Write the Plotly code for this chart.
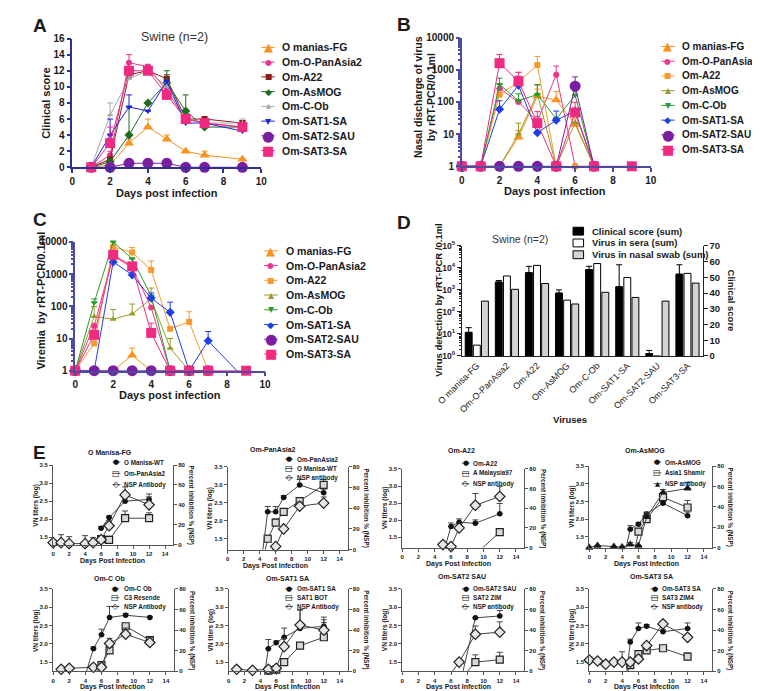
import plotly.graph_objects as go

FONT = "Liberation Sans"
W, H = 760, 691

# ======================= DATA =======================
SERIES = ["O manias-FG", "Om-O-PanAsia2", "Om-A22", "Om-AsMOG",
          "Om-C-Ob", "Om-SAT1-SA", "Om-SAT2-SAU", "Om-SAT3-SA"]

# ---- Panel A: clinical score ----
A_DAYS = [1, 2, 3, 4, 5, 6, 7, 9]
A_O_MANIAS_FG = [0, 0.3, 3, 5, 3.5, 2, 1.5, 1]
A_PANASIA2 = [0, 1.5, 13, 12.5, 9.5, 6, 5.5, 5]
A_A22 = [0, 1, 11.5, 12, 11, 6, 6, 5.5]
A_ASMOG = [0, 0.7, 4, 8, 10.5, 7, 5, 5]
A_C_OB = [0, 6.5, 11, 12, 10, 6, 5.5, 5.5]
A_SAT1 = [0, 4, 7.5, 7, 10.7, 5.5, 5.5, 4.5]
A_SAT2 = [0, 0, 0.5, 0.5, 0.5, 0, 0, 0]
A_SAT3 = [0, 3, 12, 12, 9, 6, 5.5, 5]
A_O_MANIAS_FG_ERR = [0, 0, 0.5, 1, 0.5, 0, 0.5, 0]
A_PANASIA2_ERR = [0, 0.5, 1, 0.3, 0.3, 0, 0, 0]
A_A22_ERR = [0, 0, 0.5, 0.5, 0.5, 0, 0, 0.3]
A_ASMOG_ERR = [0, 0, 3.5, 0, 1.5, 2, 0, 0]
A_C_OB_ERR = [0, 1.5, 0.3, 0.5, 0.5, 0, 0, 0.5]
A_SAT1_ERR = [0, 2, 1.5, 0, 0, 0, 0, 0]
A_SAT2_ERR = [0, 0, 0.5, 0.5, 0.5, 0, 0, 0]
A_SAT3_ERR = [0, 2, 0.5, 0.5, 0.5, 0.5, 0.5, 0.5]

# ---- Panel B: nasal discharge ----
B_DAYS = [0, 1, 2, 3, 4, 5, 6, 7]
B_DAYS_LONG = [0, 1, 2, 3, 4, 5, 6, 7, 9]
B_O_MANIAS_FG = [1, 1, 1, 8, 150, 115, 20, 1]
B_PANASIA2 = [1, 1, 260, 100, 25, 700, 1, 1]
B_A22 = [1, 1, 170, 420, 1400, 1, 1, 1]
B_ASMOG = [1, 1, 1, 10, 180, 1, 23, 1]
B_C_OB = [1, 1, 350, 110, 170, 30, 160, 1]
B_SAT1 = [1, 1, 59, 330, 11, 27, 52, 1]
B_SAT2 = [1, 1, 1, 1, 1, 1, 310, 1]
B_SAT3 = [1, 1, 1600, 440, 22, 1, 47, 1, 1]
B_O_MANIAS_FG_ERR = [0, 0, 0, 5, 100, 100, 10, 0]
B_PANASIA2_ERR = [0, 0, 0, 0, 10, 600, 0, 0]
B_A22_ERR = [0, 0, 0, 400, 1200, 0, 0, 0]
B_ASMOG_ERR = [0, 0, 0, 12, 150, 0, 0, 0]
B_C_OB_ERR = [0, 0, 200, 70, 180, 0, 60, 0]
B_SAT1_ERR = [0, 0, 50, 300, 0, 25, 0, 0]
B_SAT2_ERR = [0, 0, 0, 0, 0, 0, 290, 0]
B_SAT3_ERR = [0, 0, 1400, 400, 28, 0, 50, 0, 0]

# ---- Panel C: viremia ----
C_DAYS = [0, 1, 2, 3, 4, 5, 6, 7]
C_DAYS_LONG = [0, 1, 2, 3, 4, 5, 6, 7, 9]
C_O_MANIAS_FG = [1, 1, 1, 3, 1, 1, 1, 1]
C_PANASIA2 = [1, 25, 3700, 1600, 92, 1, 1, 1]
C_A22 = [1, 7, 7000, 4700, 1350, 20, 33, 1]
C_ASMOG = [1, 48, 40, 58, 170, 5, 1, 1]
C_C_OB = [1, 130, 10000, 3000, 210, 1, 1, 1]
C_SAT1 = [1, 1, 2400, 950, 180, 65, 1, 8.5, 0.5]
C_SAT2 = [1, 1, 1, 1, 1, 1, 1, 1]
C_SAT3 = [1, 13, 4000, 1750, 15, 1, 1, 1, 1]
C_O_MANIAS_FG_ERR = [0, 0, 0, 2, 0, 0, 0, 0]
C_PANASIA2_ERR = [0, 0, 0, 0, 0, 0, 0, 0]
C_A22_ERR = [0, 0, 0, 2000, 1200, 0, 35, 0]
C_ASMOG_ERR = [0, 50, 40, 60, 200, 5, 0, 0]
C_C_OB_ERR = [0, 40, 0, 0, 0, 0, 0, 0]
C_SAT1_ERR = [0, 0, 0, 0, 80, 70, 0, 8, 0]
C_SAT2_ERR = [0, 0, 0, 0, 0, 0, 0, 0]
C_SAT3_ERR = [0, 10, 0, 0, 15, 0, 0, 0, 0]

# ---- Panel D: sums ----
D_VIRUSES = ["O manisa-FG", "Om-O-PanAsia2", "Om-A22", "Om-AsMOG",
             "Om-C-Ob", "Om-SAT1-SA", "Om-SAT2-SAU", "Om-SAT3-SA"]
D_CLINICAL = [15, 47, 53, 40, 55, 44, 1.5, 52]
D_CLINICAL_ERR = [3, 1, 4, 2, 2, 14, 2, 6]
D_SERA = [3.1, 4300, 13000, 345, 15800, 3650, 1, 5650]
D_NASAL = [310, 1070, 1960, 230, 780, 455, 310, 2040]
D_LEGEND = ["Clinical score (sum)", "Virus in sera (sum)", "Virus in nasal swab (sum)"]

# ---- Panel E: VN titres (S1 filled circle, S2 square, S3 NSP antibody %) ----
E_TITLES = ["O Manisa-FG", "Om-PanAsia2", "Om-A22", "Om-AsMOG",
            "Om-C Ob", "Om-SAT1 SA", "Om-SAT2 SAU", "Om-SAT3 SA"]

E1_NAMES = ["O Manisa-WT", "Om-PanAsia2", "NSP Antibody"]
E1_S1_DAYS = [6, 7, 9, 12]
E1_S1 = [1.75, 2.05, 2.5, 2.55]
E1_S1_ERR = [0.05, 0.04, 0.1, 0.15]
E1_S2_DAYS = [6, 7, 9, 12]
E1_S2 = [1.45, 1.43, 2.03, 2.03]
E1_S2_ERR = [0.05, 0.1, 0.2, 0.15]
E1_S3_DAYS = [0, 1, 2, 4, 5, 6, 7, 9, 12]
E1_S3 = [2, 2, 1, 1, 2, 5, 19, 50, 40]
E1_S3_ERR = [3, 8, 7, 8, 5, 3, 5, 8, 8]

E2_NAMES = ["Om-PanAsia2", "O Manisa-WT", "NSP antibody"]
E2_S1_DAYS = [4, 5, 6, 7, 9, 12]
E2_S1 = [0.5, 2.25, 2.25, 2.65, 3.0, 2.78]
E2_S1_ERR = [0, 0.15, 0.15, 0.05, 0.15, 0.1]
E2_S2_DAYS = [4, 5, 6, 7, 9, 12]
E2_S2 = [0.5, 1.5, 1.95, 2.25, 2.55, 3.0]
E2_S2_ERR = [0, 0.1, 0.1, 0.08, 0.08, 0.15]
E2_S3_DAYS = [5, 6, 7, 9, 12]
E2_S3 = [-5, 3, 20, 42, 45]
E2_S3_ERR = [0, 2, 2, 4, 6]

E3_NAMES = ["Om-A22", "A Malaysia97", "NSP antibody"]
E3_S1_DAYS = [5, 6, 7, 9, 12]
E3_S1 = [1.0, 1.82, 1.94, 1.91, 2.19]
E3_S1_ERR = [0, 0.1, 0.1, 0.1, 0.3]
E3_S2_DAYS = [9, 12]
E3_S2 = [1.0, 1.65]
E3_S2_ERR = [0, 0]
E3_S3_DAYS = [5, 6, 7, 9, 12]
E3_S3 = [3, 1, 20, 43, 52]
E3_S3_ERR = [1, 1, 2, 12, 10]

E4_NAMES = ["Om-AsMOG", "Asia1 Shamir", "NSP antibody"]
E4_S1_DAYS = [4, 5, 6, 7, 9, 12]
E4_S1 = [0.7, 1.72, 1.86, 2.15, 2.45, 2.1]
E4_S1_ERR = [0, 0.1, 0.05, 0.05, 0.05, 0.1]
E4_S2_DAYS = [5, 6, 7, 9, 12]
E4_S2 = [0.5, 1.65, 2.0, 2.62, 2.33]
E4_S2_ERR = [0, 0.05, 0.05, 0.05, 0.2]
E4_S3_DAYS = [0, 1, 3, 4, 5, 6, 7, 9, 12]
E4_S3 = [0, 2, 1, 0.5, 3, 2, 30, 54, 58]
E4_S3_ERR = [0, 0, 0, 0, 2, 0, 4, 3, 6]

E5_NAMES = ["Om-C Ob", "C3 Resende", "NSP Antibody"]
E5_S1_DAYS = [4, 5, 6, 7, 9, 12]
E5_S1 = [1.15, 1.87, 2.25, 2.72, 2.78, 2.72]
E5_S1_ERR = [0, 0.05, 0.15, 0.3, 0.05, 0.03]
E5_S2_DAYS = [5, 6, 7, 9, 12]
E5_S2 = [1.08, 1.42, 1.82, 2.48, 2.1]
E5_S2_ERR = [0, 0.03, 0.05, 0.05, 0.1]
E5_S3_DAYS = [1, 2, 5, 6, 7, 9, 12]
E5_S3 = [2, 3, 4, 4, 27, 36, 28]
E5_S3_ERR = [0, 0, 2, 2, 5, 6, 5]

E6_NAMES = ["Om-SAT1 SA", "SAT1 BOT", "NSP Antibody"]
E6_S1_DAYS = [4, 5, 6, 7, 9, 12]
E6_S1 = [0.4, 1.87, 2.03, 2.18, 2.42, 2.48]
E6_S1_ERR = [0, 0.25, 0.05, 0.25, 0.5, 0.25]
E6_S2_DAYS = [5, 6, 7, 9, 12]
E6_S2 = [1.27, 1.3, 1.5, 1.95, 2.18]
E6_S2_ERR = [0, 0, 0, 0, 0.4]
E6_S3_DAYS = [1, 3, 5, 6, 7, 9, 12]
E6_S3 = [2, 1, 2, 3, 24, 45, 40]
E6_S3_ERR = [3, 0, 0, 0, 8, 15, 10]

E7_NAMES = ["Om-SAT2 SAU", "SAT2 ZIM", "NSP antibody"]
E7_S1_DAYS = [7, 9, 12]
E7_S1 = [0.8, 2.71, 2.76]
E7_S1_ERR = [0, 0, 0.15]
E7_S2_DAYS = [7, 9, 12]
E7_S2 = [1.0, 1.5, 1.57]
E7_S2_ERR = [0, 0.2, 0.2]
E7_S3_DAYS = [6, 7, 9, 12]
E7_S3 = [-2, 9, 36, 38]
E7_S3_ERR = [0, 2, 8, 10]

E8_NAMES = ["Om-SAT3 SA", "SAT3 ZIM4", "NSP antibody"]
E8_S1_DAYS = [4, 5, 6, 7, 9, 12]
E8_S1 = [0.1, 2.05, 2.42, 2.48, 2.33, 2.42]
E8_S1_ERR = [0, 0.08, 0.15, 0.05, 0.05, 0.15]
E8_S2_DAYS = [4, 5, 6, 7, 9, 12]
E8_S2 = [0.85, 1.42, 1.72, 1.82, 1.88, 1.65]
E8_S2_ERR = [0, 0.03, 0.05, 0.08, 0.03, 0.1]
E8_S3_DAYS = [0, 1, 2, 3, 4, 5, 6, 7, 9, 12]
E8_S3 = [11, 10, 7, 9, 9, 9, 12, 25, 46, 33]
E8_S3_ERR = [3, 2, 0, 0, 10, 0, 0, 3, 2, 3]

# ======================= STYLE / LAYOUT =======================
A_COLORS = ["#F7931E", "#E6338C", "#8B1A1A", "#1F6B1F", "#A8A8A8", "#2020E0", "#7A1FA0", "#F02A80"]
A_SYMBOLS = ["triangle-up", "circle", "square", "diamond", "triangle-up", "triangle-down", "circle", "square"]
A_SIZES = [9, 6, 6, 7, 5, 6, 11, 10]
BC_COLORS = ["#F7931E", "#E8388A", "#F79A2E", "#9A9A2A", "#2E9A2E", "#1F3FE0", "#7A1FA0", "#F02A80"]
BC_SYMBOLS = ["triangle-up", "circle", "square", "triangle-up", "triangle-down", "diamond", "circle", "square"]
BC_SIZES = [9, 6, 6, 6, 6, 7, 11, 10]

GLYPH = {"triangle-up": "▲", "circle": "●", "square": "■", "diamond": "◆",
         "triangle-down": "▼", "square-open": "□", "diamond-open": "◇"}

fig = go.Figure()
ANN, SHP, LAY = [], [], {}


def PX(x):
    return x / W


def PY(y):
    return 1 - y / H


def text(x, y, s, size, bold=True, color="#1a1a1a", xanchor="center", yanchor="middle", angle=0,
         family=FONT):
    ANN.append(dict(x=PX(x), y=PY(y), xref="paper", yref="paper",
                    text=(f"<b>{s}</b>" if bold else s), showarrow=False,
                    font=dict(family=family, size=size, color=color), borderpad=0,
                    xanchor=xanchor, yanchor=yanchor, textangle=angle))


def axis(rng, color, lw, size, tickvals=None, ticktext=None, anchor=None, ticklen=4, domain=None,
         bold=True, **kw):
    d = dict(range=rng, anchor=anchor, showline=True, linecolor=color, linewidth=lw,
             ticks="outside", ticklen=ticklen, tickwidth=lw, tickcolor=color,
             showgrid=False, zeroline=False, fixedrange=True,
             tickfont=dict(family=FONT, size=size, color="#1a1a1a", weight="bold" if bold else "normal"))
    if domain is not None:
        d["domain"] = domain
    if tickvals is not None:
        d["tickvals"] = tickvals
    if ticktext is not None:
        d["ticktext"] = ticktext
    d.update(kw)
    return d


def series(xs, ys, errs, xa, ya, color, symbol, size, low, fill=None, mline=None, lcolor=None, lw=1.0):
    lc = lcolor or color
    fig.add_trace(go.Scatter(x=xs, y=ys, mode="lines", xaxis=xa, yaxis=ya,
                             line=dict(color=lc, width=lw), hoverinfo="skip", showlegend=False))
    keep = [i for i, v in enumerate(ys) if v >= low]
    mx = [xs[i] for i in keep]
    my = [ys[i] for i in keep]
    kw = {}
    if errs is not None:
        me = [errs[i] for i in keep]
        kw["error_y"] = dict(type="data", array=me, arrayminus=[0] * len(me), symmetric=False,
                             color=lc, thickness=1, width=3)
    marker = dict(symbol=symbol, size=size, color=fill or color,
                  line=dict(color=mline or color, width=1.2 if mline else 0))
    fig.add_trace(go.Scatter(x=mx, y=my, mode="markers", xaxis=xa, yaxis=ya, marker=marker,
                             cliponaxis=False, hoverinfo="skip", showlegend=False, **kw))


def legend_entry(xm, y, half, label, color, symbol, gsize, tx, tsize, lcolor=None, gcolor=None):
    SHP.append(dict(type="line", xref="paper", yref="paper", x0=PX(xm - half), x1=PX(xm + half),
                    y0=PY(y), y1=PY(y), line=dict(color=lcolor or color, width=1)))
    text(xm, y, GLYPH[symbol], gsize, bold=False, color=gcolor or color, family="DejaVu Sans")
    text(tx, y, label, tsize, xanchor="left")


def dom(box):
    l, r, t, b = box
    return [PX(l), PX(r)], [PY(b), PY(t)]


# ---------- Panel A ----------
BOX_A = (41, 238, 25, 156)
xd, yd = dom(BOX_A)
NAVY = "#2E3192"
LAY["xaxis"] = axis([0, 10], NAVY, 1.5, 10, list(range(0, 11, 2)), anchor="y", domain=xd)
LAY["yaxis"] = axis([0, 16], NAVY, 1.5, 10, list(range(0, 17, 2)), anchor="x", domain=yd)
A_VALUES = [A_O_MANIAS_FG, A_PANASIA2, A_A22, A_ASMOG, A_C_OB, A_SAT1, A_SAT2, A_SAT3]
A_ERRS = [A_O_MANIAS_FG_ERR, A_PANASIA2_ERR, A_A22_ERR, A_ASMOG_ERR, A_C_OB_ERR, A_SAT1_ERR, A_SAT2_ERR, A_SAT3_ERR]
for i in range(8):
    series(A_DAYS, A_VALUES[i], A_ERRS[i], "x", "y", A_COLORS[i], A_SYMBOLS[i], A_SIZES[i], 0)
text(147, 23, "Swine (n=2)", 12.5, bold=False, color="#333")
text(14, 90, "Clinical score", 11, angle=-90)
text(140, 182, "Days post infection", 11)
for i, name in enumerate(SERIES):
    legend_entry(245, 34 + 15 * i, 7, name, A_COLORS[i], A_SYMBOLS[i], A_SIZES[i] * 1.3, 259, 10.5)

# ---------- Panel B ----------
BOX_B = (447, 644, 24, 155)
xd, yd = dom(BOX_B)
PURP = "#4B4BA0"
LOGV = [1, 10, 100, 1000, 10000]
LOGT = ["1", "10", "100", "1000", "10000"]
LAY["xaxis2"] = axis([0, 10], PURP, 1.5, 10, list(range(0, 11, 2)), anchor="y2", domain=xd)
LAY["yaxis2"] = axis([0, 4], PURP, 1.5, 10, LOGV, LOGT, anchor="x2", domain=yd, type="log",
                     minor=dict(ticks="outside", ticklen=2, tickcolor=PURP, dtick="D1"))
B_VALUES = [B_O_MANIAS_FG, B_PANASIA2, B_A22, B_ASMOG, B_C_OB, B_SAT1, B_SAT2, B_SAT3]
B_ERRS = [B_O_MANIAS_FG_ERR, B_PANASIA2_ERR, B_A22_ERR, B_ASMOG_ERR, B_C_OB_ERR, B_SAT1_ERR, B_SAT2_ERR, B_SAT3_ERR]
for i in range(8):
    days = B_DAYS_LONG if len(B_VALUES[i]) == len(B_DAYS_LONG) else B_DAYS
    series(days, B_VALUES[i], B_ERRS[i], "x2", "y2", BC_COLORS[i], BC_SYMBOLS[i], BC_SIZES[i], 1)
text(408, 84, "Nasal discharge of virus<br>by rRT-PCR/0.1ml", 10.5, angle=-90)
text(544, 180, "Days post infection", 11)
for i, name in enumerate(SERIES):
    legend_entry(662, 33 + 15 * i, 7, name, BC_COLORS[i], BC_SYMBOLS[i], BC_SIZES[i] * 1.3, 676, 10)

# ---------- Panel C ----------
BOX_C = (44, 242, 232, 363)
xd, yd = dom(BOX_C)
LAY["xaxis3"] = axis([0, 10], PURP, 1.5, 10, list(range(0, 11, 2)), anchor="y3", domain=xd)
LAY["yaxis3"] = axis([0, 4], PURP, 1.5, 10, LOGV, LOGT, anchor="x3", domain=yd, type="log",
                     minor=dict(ticks="outside", ticklen=2, tickcolor=PURP, dtick="D1"))
C_VALUES = [C_O_MANIAS_FG, C_PANASIA2, C_A22, C_ASMOG, C_C_OB, C_SAT1, C_SAT2, C_SAT3]
C_ERRS = [C_O_MANIAS_FG_ERR, C_PANASIA2_ERR, C_A22_ERR, C_ASMOG_ERR, C_C_OB_ERR, C_SAT1_ERR, C_SAT2_ERR, C_SAT3_ERR]
for i in range(8):
    days = C_DAYS_LONG if len(C_VALUES[i]) == len(C_DAYS_LONG) else C_DAYS
    series(days, C_VALUES[i], C_ERRS[i], "x3", "y3", BC_COLORS[i], BC_SYMBOLS[i], BC_SIZES[i], 1)
text(8, 292, "Viremia  by rRT-PCR/0.1ml", 11, angle=-90)
text(143, 388, "Days post infection", 11)
for i, name in enumerate(SERIES):
    legend_entry(248, 241 + 15 * i, 7, name, BC_COLORS[i], BC_SYMBOLS[i], BC_SIZES[i] * 1.3, 263, 10.5)

# ---------- Panel D ----------
BOX_D = (447, 698, 236, 348)
xd, yd = dom(BOX_D)
LAY["xaxis4"] = axis([-0.5, 7.5], "#222", 1, 9, anchor="y4", domain=xd, type="category",
                     tickangle=-45, ticks="", ticklen=0, bold=False)
LAY["yaxis4"] = axis([0, 5], "#222", 1.2, 8.5, [1, 10, 100, 1000, 10000, 100000],
                     ["10<sup>0</sup>", "10<sup>1</sup>", "10<sup>2</sup>", "10<sup>3</sup>",
                      "10<sup>4</sup>", "10<sup>5</sup>"],
                     anchor="x4", domain=yd, type="log",
                     minor=dict(ticks="outside", ticklen=2, tickcolor="#222", dtick="D1"))
LAY["yaxis5"] = axis([0, 70], "#222", 1.2, 9.5, list(range(0, 71, 10)), anchor="x4",
                     overlaying="y4", side="right")
fig.add_trace(go.Bar(x=D_VIRUSES, y=D_CLINICAL, xaxis="x4", yaxis="y5", offsetgroup="1",
                     marker=dict(color="black", line=dict(color="black", width=1)),
                     error_y=dict(type="data", array=D_CLINICAL_ERR, arrayminus=[0] * 8, symmetric=False,
                                  color="black", thickness=1, width=3),
                     showlegend=False, hoverinfo="skip"))
fig.add_trace(go.Bar(x=D_VIRUSES, y=D_SERA, xaxis="x4", yaxis="y4", offsetgroup="2",
                     marker=dict(color="white", line=dict(color="black", width=1)),
                     showlegend=False, hoverinfo="skip"))
fig.add_trace(go.Bar(x=D_VIRUSES, y=D_NASAL, xaxis="x4", yaxis="y4", offsetgroup="3",
                     marker=dict(color="#D3D3D3", line=dict(color="black", width=1)),
                     showlegend=False, hoverinfo="skip"))
text(508, 229, "Swine (n=2)", 10.5, bold=False, color="#333")
text(423, 291, "Virus detection by rRT-PCR /0.1ml", 9.5, angle=-90)
text(728, 292, "Clinical score", 9.5, angle=90)
text(560, 413, "Viruses", 9.5)
D_SWATCH = ["black", "white", "#D3D3D3"]
for i, name in enumerate(D_LEGEND):
    y = 221 + 12 * i
    SHP.append(dict(type="rect", xref="paper", yref="paper", x0=PX(563), x1=PX(574),
                    y0=PY(y + 4), y1=PY(y - 4), fillcolor=D_SWATCH[i], line=dict(color="black", width=1)))
    text(582, y, name, 9.5, xanchor="left")

# ---------- Panel E ----------
E_BOX = [(21, 146, 459, 540), (203, 328, 461, 545), (385, 512, 463, 543), (580, 708, 460, 543),
         (21, 147, 585, 669), (204, 328, 585, 669), (385, 512, 585, 669), (580, 708, 585, 669)]
E_YLOW = [1.3, 1.2, 1.2, 1.2, 1.25, 1.25, 1.25, 1.25]
E_TITLE_POS = [(80, 446), (250, 443), (447, 444), (638, 444), (80, 574), (265, 574), (447, 572), (645, 572)]
E_LEG = [(87, 94, 456, 11.5), (267, 274, 453, 9.5), (451, 458, 457, 10.5), (651, 658, 456, 11),
         (86, 94, 585, 9), (267, 274, 585, 9), (451, 458, 585, 9), (648, 655, 585, 9)]
E_XTITLE = [(83, 557), (253, 562), (444, 560), (640, 560), (83, 685), (265, 685), (444, 685), (640, 685)]
E_NSP_SYMBOL = ["diamond", "diamond", "diamond", "triangle-up", "diamond", "diamond", "diamond", "diamond"]
E_DATA = [
    (E1_NAMES, E1_S1_DAYS, E1_S1, E1_S1_ERR, E1_S2_DAYS, E1_S2, E1_S2_ERR, E1_S3_DAYS, E1_S3, E1_S3_ERR),
    (E2_NAMES, E2_S1_DAYS, E2_S1, E2_S1_ERR, E2_S2_DAYS, E2_S2, E2_S2_ERR, E2_S3_DAYS, E2_S3, E2_S3_ERR),
    (E3_NAMES, E3_S1_DAYS, E3_S1, E3_S1_ERR, E3_S2_DAYS, E3_S2, E3_S2_ERR, E3_S3_DAYS, E3_S3, E3_S3_ERR),
    (E4_NAMES, E4_S1_DAYS, E4_S1, E4_S1_ERR, E4_S2_DAYS, E4_S2, E4_S2_ERR, E4_S3_DAYS, E4_S3, E4_S3_ERR),
    (E5_NAMES, E5_S1_DAYS, E5_S1, E5_S1_ERR, E5_S2_DAYS, E5_S2, E5_S2_ERR, E5_S3_DAYS, E5_S3, E5_S3_ERR),
    (E6_NAMES, E6_S1_DAYS, E6_S1, E6_S1_ERR, E6_S2_DAYS, E6_S2, E6_S2_ERR, E6_S3_DAYS, E6_S3, E6_S3_ERR),
    (E7_NAMES, E7_S1_DAYS, E7_S1, E7_S1_ERR, E7_S2_DAYS, E7_S2, E7_S2_ERR, E7_S3_DAYS, E7_S3, E7_S3_ERR),
    (E8_NAMES, E8_S1_DAYS, E8_S1, E8_S1_ERR, E8_S2_DAYS, E8_S2, E8_S2_ERR, E8_S3_DAYS, E8_S3, E8_S3_ERR),
]
EGRAY = "#555"
ELINE = "#444"
for k in range(8):
    names, d1, v1, e1, d2, v2, e2, d3, v3, e3 = E_DATA[k]
    box = E_BOX[k]
    xd, yd = dom(box)
    xi, yl, yr = 5 + k, 6 + 2 * k, 7 + 2 * k
    LAY[f"xaxis{xi}"] = axis([0, 15], EGRAY, 1, 6, list(range(0, 15, 2)), anchor=f"y{yl}", domain=xd, ticklen=3)
    LAY[f"yaxis{yl}"] = axis([E_YLOW[k], 3.5], EGRAY, 1, 6, [1.5, 2.0, 2.5, 3.0, 3.5],
                             ["1.5", "2.0", "2.5", "3.0", "3.5"], anchor=f"x{xi}", domain=yd, ticklen=3)
    LAY[f"yaxis{yr}"] = axis([0, 80], EGRAY, 1, 6, [0, 20, 40, 60, 80], anchor=f"x{xi}",
                             overlaying=f"y{yl}", side="right", ticklen=3)
    nsp_sym = E_NSP_SYMBOL[k]
    series(d3, v3, e3, f"x{xi}", f"y{yr}", "#222", nsp_sym, 8 if nsp_sym == "diamond" else 6, 0,
           fill="#e6e6e6" if nsp_sym == "diamond" else "#111", mline="#222", lcolor=ELINE)
    series(d2, v2, e2, f"x{xi}", f"y{yl}", "#222", "square", 7, E_YLOW[k],
           fill="#d9d9d9", mline="#222", lcolor=ELINE)
    series(d1, v1, e1, f"x{xi}", f"y{yl}", "#111", "circle", 5.5, E_YLOW[k], lcolor=ELINE)
    # titles
    l, r, t, b = box
    tx, ty = E_TITLE_POS[k]
    text(tx, ty, E_TITLES[k], 7)
    xtx, xty = E_XTITLE[k]
    text(xtx, xty, "Days Post Infection", 7)
    text(l - 18, (t + b) / 2, "VN titers (log)", 6.5, angle=-90)
    text(r + 19, (t + b) / 2, "Percent inhibition % (NSP)", 6.3, angle=90)
    mx, txp, y0, step = E_LEG[k]
    syms = ["circle", "square-open", "diamond-open" if nsp_sym == "diamond" else "triangle-up"]
    gs = [7, 8, 8 if nsp_sym == "diamond" else 6.5]
    for j in range(3):
        legend_entry(mx, y0 + step * j, 4, names[j], "#555", syms[j], gs[j], txp, 6.3,
                     lcolor="#555", gcolor="#111")

# ---------- Panel letters ----------
for letter, (x, y) in zip("ABCDE", [(7, 12), (387, 11), (7, 209), (387, 212), (7, 446)]):
    text(x, y, letter, 19)

LAY.update(dict(width=W, height=H, margin=dict(l=0, r=0, t=0, b=0), paper_bgcolor="white",
                plot_bgcolor="white", showlegend=False, barmode="group", bargap=0.19, bargroupgap=0.15,
                annotations=ANN, shapes=SHP, font=dict(family=FONT, color="#1a1a1a")))
fig.update_layout(**LAY)
fig.write_html("out.html")
